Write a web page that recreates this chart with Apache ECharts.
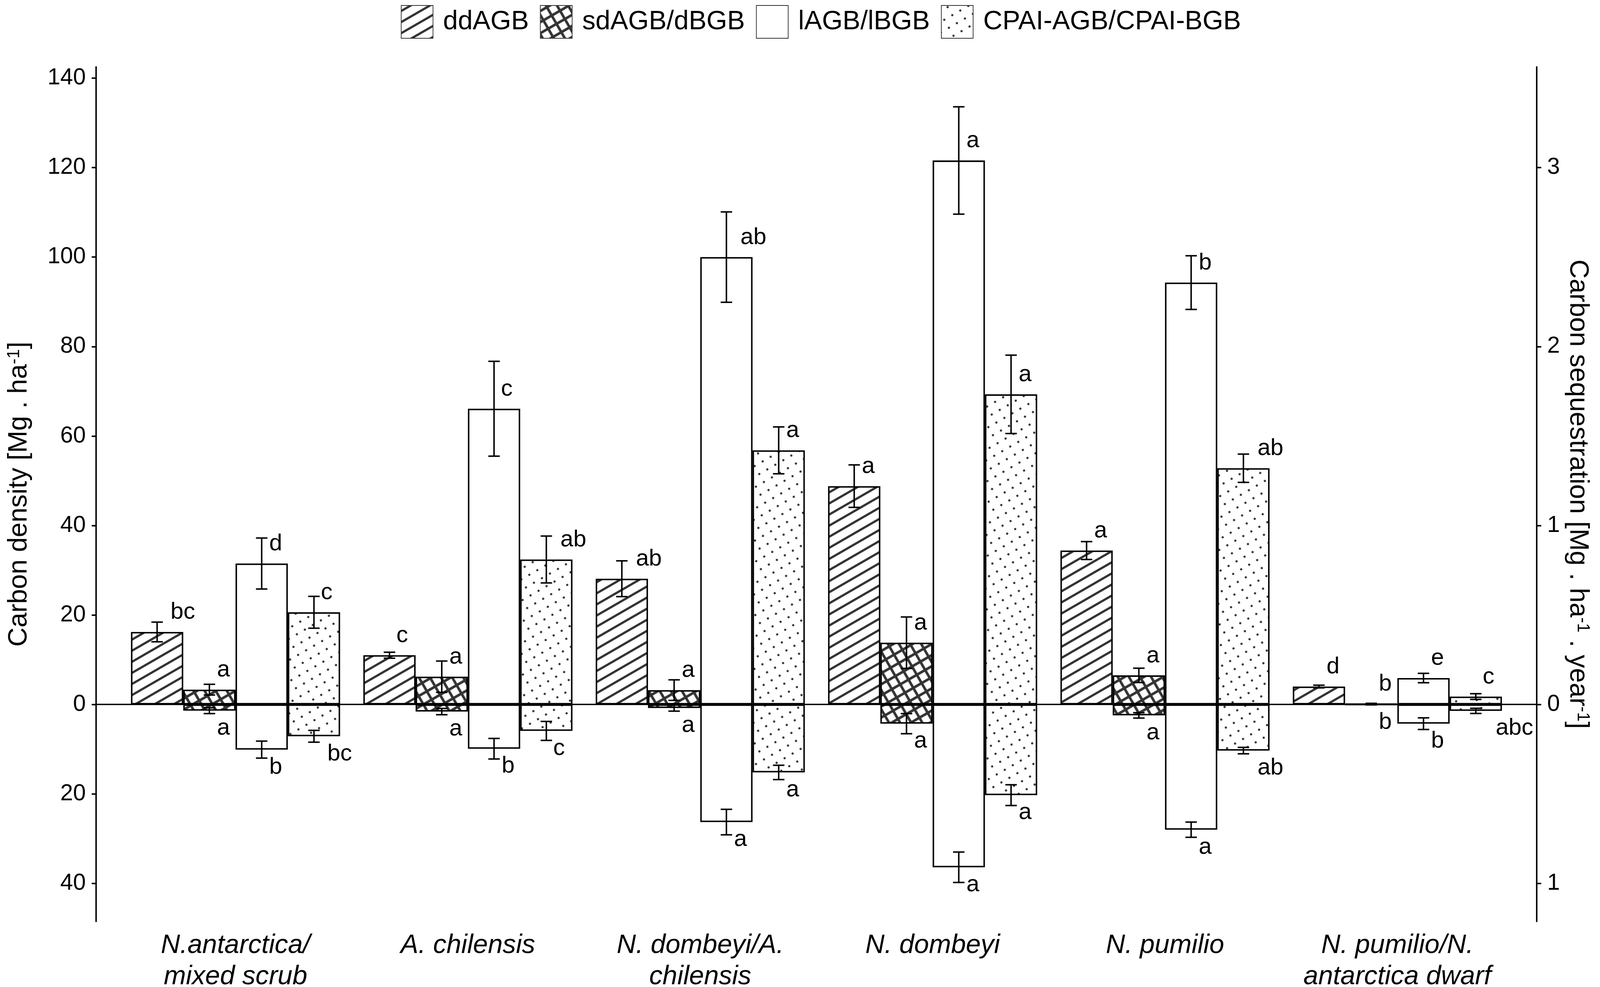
<!DOCTYPE html>
<html><head><meta charset="utf-8">
<script src="https://cdn.jsdelivr.net/npm/echarts@6.0.0/dist/echarts.min.js"></script>
<style>html,body{margin:0;padding:0;background:#fff;overflow:hidden}#c{width:100vw;height:100vh}</style>
</head><body><div id="c"></div>
<script>
// ---------------- data ----------------
const categories = ["N.antarctica/\nmixed scrub", "A. chilensis", "N. dombeyi/A.\nchilensis", "N. dombeyi", "N. pumilio", "N. pumilio/N.\nantarctica dwarf"];
const seriesNames = ["ddAGB", "sdAGB/dBGB", "lAGB/lBGB", "CPAI-AGB/CPAI-BGB"];

// Carbon density [Mg ha-1] (left axis)
const ddAGB     = [16.2, 11.0, 28.1, 48.8, 34.4, 4.0];
const ddAGB_se  = [2.2, 0.67, 4.0, 4.75, 2.0, 0.3];
const ddAGB_let = ["bc", "c", "ab", "a", "a", "d"];

const sdAGB     = [3.3, 6.2, 3.2, 13.8, 6.5, 0.15];
const sdAGB_se  = [1.2, 3.5, 2.3, 5.75, 1.6, 0.1];
const sdAGB_let = ["a", "a", "a", "a", "a", "b"];

const dBGB      = [-1.4, -1.6, -0.8, -4.3, -2.45, -0.05];
const dBGB_se   = [0.65, 0.7, 0.7, 2.25, 0.6, 0.05];
const dBGB_let  = ["a", "a", "a", "a", "a", "b"];

const lAGB      = [31.5, 66.1, 100.0, 121.6, 94.3, 5.9];
const lAGB_se   = [5.7, 10.6, 10.1, 12.0, 6.0, 1.05];
const lAGB_let  = ["d", "c", "ab", "a", "b", "e"];

const lBGB      = [-10.1, -9.9, -26.3, -36.4, -28.0, -4.3];
const lBGB_se   = [1.9, 2.3, 2.85, 3.4, 1.7, 1.3];
const lBGB_let  = ["b", "b", "a", "a", "a", "b"];

// Carbon sequestration [Mg ha-1 year-1] (right axis)
const cpaiAGB     = [0.515, 0.81, 1.42, 1.733, 1.32, 0.044];
const cpaiAGB_se  = [0.089, 0.131, 0.131, 0.219, 0.079, 0.016];
const cpaiAGB_let = ["c", "ab", "a", "a", "ab", "c"];

const cpaiBGB     = [-0.178, -0.148, -0.38, -0.507, -0.258, -0.036];
const cpaiBGB_se  = [0.033, 0.053, 0.04, 0.058, 0.018, 0.0145];
const cpaiBGB_let = ["bc", "c", "a", "a", "ab", "abc"];

// axes
const leftTicks  = [-40, -20, 0, 20, 40, 60, 80, 100, 120, 140];
const rightTicks = [-1, 0, 1, 2, 3];
const leftMin = -48.5, leftMax = 142.5;
const axisRatio = 40; // left units per right unit

// ---------------- styling ----------------
const W0 = 4328, H0 = 2527;
const KX = (window.innerWidth || W0) / W0;
const KY = (window.innerHeight || H0) / H0;
const SX = v => v * KX;   // horizontal distances, fonts, line widths
const SY = v => v * KY;   // vertical distances
const F = '"Liberation Sans", Arial, Helvetica, sans-serif';

function tile(size, fn) {
  const c = document.createElement('canvas');
  c.width = size; c.height = size;
  const g = c.getContext('2d');
  g.fillStyle = '#fff'; g.fillRect(0, 0, size, size);
  fn(g, size);
  return c;
}
function pat(img) { return { image: img, repeat: 'repeat', rotation: -Math.PI / 6, scaleX: KX, scaleY: KX }; }
const stripe = pat(tile(26, (g, s) => { g.fillStyle = '#333'; g.fillRect(0, s / 2 - 3, s, 6); }));
const cross = pat(tile(26, (g, s) => { g.fillStyle = '#333'; g.fillRect(0, s / 2 - 3.5, s, 7); g.fillRect(s / 2 - 3.5, 0, 7, s); }));
const dots = pat(tile(25, (g, s) => { g.fillStyle = '#333'; g.beginPath(); g.arc(s / 2, s / 2, 3, 0, Math.PI * 2); g.fill(); }));

const mctx = document.createElement('canvas').getContext('2d');
const LETTER_FS = SX(63);
mctx.font = LETTER_FS + 'px ' + F;

function makeCustom(groups, yIdx) {
  const data = [], letters = [];
  groups.forEach(g => {
    g[0].forEach((v, i) => { data.push([i, v, g[1][i], g[3]]); letters.push(g[2][i]); });
  });
  return {
    type: 'custom', xAxisIndex: 1, yAxisIndex: yIdx, z: 4, clip: false, silent: true,
    data: data,
    renderItem: function (params, api) {
      const i = api.value(0), v = api.value(1), se = api.value(2), slot = api.value(3);
      const band = api.size([1, 0])[0];
      const base = api.coord([i, v]);
      const cx = base[0] + (-0.45 + (slot + 0.5) * 0.225) * band;
      const yT = api.coord([i, v + se])[1];
      const yB = api.coord([i, v - se])[1];
      const hw = SX(15.5);
      const ls = { stroke: '#000', lineWidth: SX(4) };
      const txt = letters[params.dataIndex];
      const w = mctx.measureText(txt).width;
      const ty = v >= 0 ? base[1] - SY(50) : base[1] + SY(45);
      return {
        type: 'group',
        children: [
          { type: 'line', shape: { x1: cx, y1: yT, x2: cx, y2: yB }, style: ls },
          { type: 'line', shape: { x1: cx - hw, y1: yT, x2: cx + hw, y2: yT }, style: ls },
          { type: 'line', shape: { x1: cx - hw, y1: yB, x2: cx + hw, y2: yB }, style: ls },
          { type: 'text', x: cx + SX(3) + 0.5 * w, y: ty, style: { text: txt, fontSize: LETTER_FS, fontFamily: F, fill: '#000', align: 'left', verticalAlign: 'middle' } }
        ]
      };
    }
  };
}

function bar(name, stack, yIdx, data, fill) {
  return { type: 'bar', xAxisIndex: 1, yAxisIndex: yIdx, name: name, stack: stack, data: data,
    barGap: '0%', barCategoryGap: '10%', silent: true, emphasis: { disabled: true },
    itemStyle: { color: fill, borderColor: '#000', borderWidth: SX(4) } };
}

const PLOT_L = 260, PLOT_R = 4157, PLOT_T = 171.5, PLOT_B = 2359;
const unit = (PLOT_R - PLOT_L) / 6.2;
const innerL = PLOT_L + 0.1 * unit, innerR = PLOT_R - 0.1 * unit;

const nameStyle = { fontSize: SX(72), fontFamily: F, color: '#000',
  rich: { sup: { fontSize: SX(46), fontFamily: F, color: '#000', verticalAlign: 'top' } } };
const tickLabel = { fontSize: SX(62), margin: SX(28), color: '#000', fontFamily: F, formatter: v => String(Math.abs(v)) };

const option = {
  animation: false,
  backgroundColor: '#fff',
  textStyle: { fontFamily: F, color: '#000' },
  legend: {
    data: seriesNames, left: SX(1079), top: SY(8), itemWidth: SX(86), itemHeight: SY(84), itemGap: SX(30), icon: 'rect',
    selectedMode: false,
    textStyle: { fontSize: SX(72), fontFamily: F, color: '#000', padding: [0, 0, 0, SX(22)] },
    itemStyle: { borderWidth: SX(2), borderColor: '#333' }
  },
  grid: [
    { left: SX(PLOT_L), right: SX(W0 - PLOT_R), top: SY(PLOT_T), bottom: SY(H0 - PLOT_B), outerBoundsMode: 'none', containLabel: false },
    { left: SX(innerL), right: SX(W0 - innerR), top: SY(PLOT_T), bottom: SY(H0 - PLOT_B), outerBoundsMode: 'none', containLabel: false }
  ],
  xAxis: [
    { gridIndex: 0, type: 'value', min: 0, max: 1,
      axisLine: { show: true, onZero: true, onZeroAxisIndex: 0, lineStyle: { color: '#000', width: SX(3.5) } },
      axisTick: { show: false }, axisLabel: { show: false }, splitLine: { show: false } },
    { gridIndex: 1, type: 'category', data: categories, position: 'bottom',
      axisLine: { show: false, onZero: false }, axisTick: { show: false }, splitLine: { show: false },
      axisLabel: { interval: 0, fontSize: SX(72), lineHeight: SY(80), fontStyle: 'italic', fontFamily: F, color: '#000', margin: SY(22) } }
  ],
  yAxis: [
    { gridIndex: 0, type: 'value', position: 'left', min: leftMin, max: leftMax,
      axisLine: { show: true, onZero: false, lineStyle: { color: '#000', width: SX(4) } },
      axisTick: { show: true, length: SX(12), customValues: leftTicks, lineStyle: { color: '#000', width: SX(4) } },
      axisLabel: Object.assign({ customValues: leftTicks }, tickLabel),
      splitLine: { show: false },
      name: 'Carbon density [Mg . ha{sup|-1}]', nameLocation: 'middle', nameGap: SX(172), nameTextStyle: nameStyle },
    { gridIndex: 0, type: 'value', position: 'right', min: leftMin / axisRatio, max: leftMax / axisRatio,
      axisLine: { show: true, onZero: false, lineStyle: { color: '#000', width: SX(4) } },
      axisTick: { show: true, length: SX(12), customValues: rightTicks, lineStyle: { color: '#000', width: SX(4) } },
      axisLabel: Object.assign({ customValues: rightTicks }, tickLabel),
      splitLine: { show: false },
      name: 'Carbon sequestration [Mg . ha{sup|-1} . year{sup|-1}]', nameLocation: 'middle', nameGap: SX(75), nameRotate: -90,
      nameTextStyle: nameStyle },
    { gridIndex: 1, type: 'value', position: 'left', min: leftMin, max: leftMax, show: false, axisLine: { onZero: false }, splitLine: { show: false } },
    { gridIndex: 1, type: 'value', position: 'right', min: leftMin / axisRatio, max: leftMax / axisRatio, show: false, axisLine: { onZero: false }, splitLine: { show: false } }
  ],
  series: [
    bar(seriesNames[0], 's1', 2, ddAGB, stripe),
    bar(seriesNames[1], 's2', 2, sdAGB, cross),
    bar(seriesNames[1], 's2', 2, dBGB, cross),
    bar(seriesNames[2], 's3', 2, lAGB, '#fff'),
    bar(seriesNames[2], 's3', 2, lBGB, '#fff'),
    bar(seriesNames[3], 's4', 3, cpaiAGB, dots),
    bar(seriesNames[3], 's4', 3, cpaiBGB, dots),
    makeCustom([
      [ddAGB, ddAGB_se, ddAGB_let, 0],
      [sdAGB, sdAGB_se, sdAGB_let, 1],
      [dBGB, dBGB_se, dBGB_let, 1],
      [lAGB, lAGB_se, lAGB_let, 2],
      [lBGB, lBGB_se, lBGB_let, 2]
    ], 2),
    makeCustom([
      [cpaiAGB, cpaiAGB_se, cpaiAGB_let, 3],
      [cpaiBGB, cpaiBGB_se, cpaiBGB_let, 3]
    ], 3)
  ]
};
const chart = echarts.init(document.getElementById('c'));
chart.setOption(option);
</script></body></html>
